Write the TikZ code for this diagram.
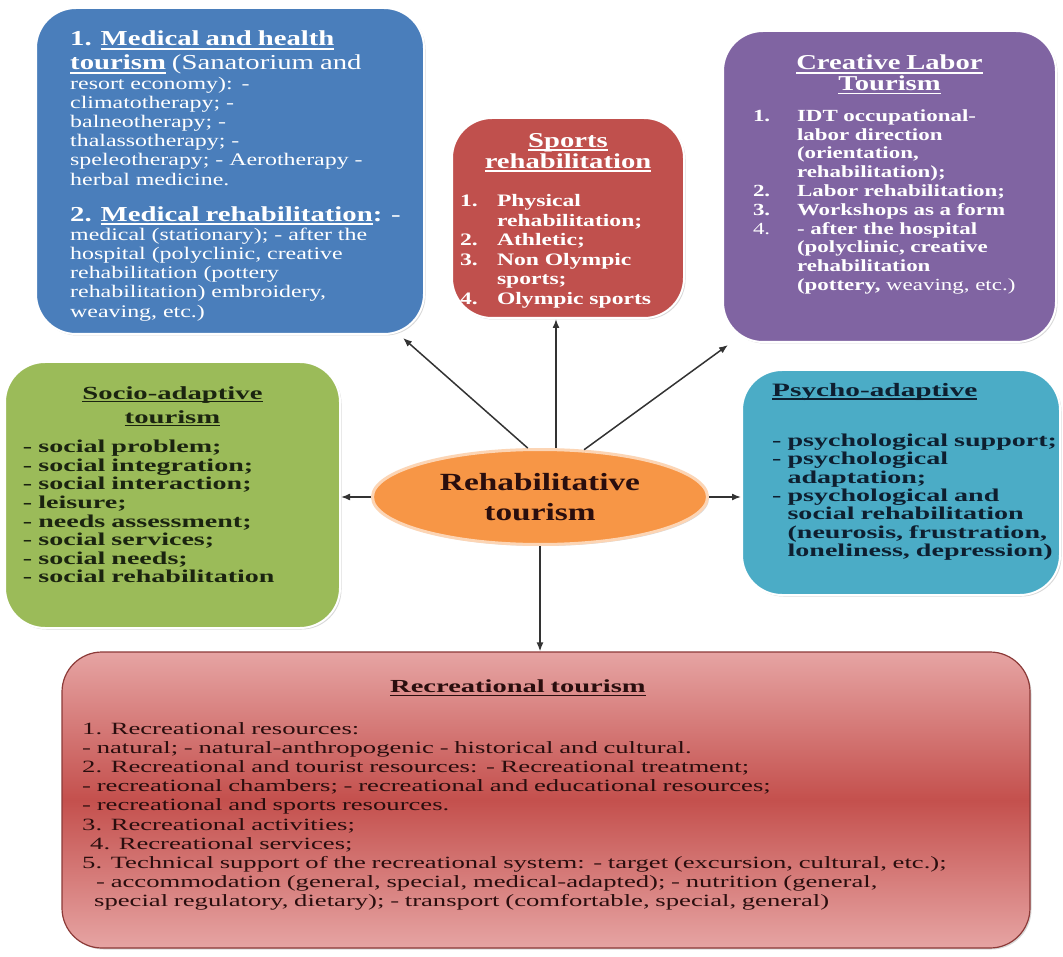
\documentclass[tikz,border=0pt]{standalone}
\usepackage{fontspec}
\setmainfont[FakeStretch=1.35]{Liberation Serif}
\newfontfamily\widefont[FakeStretch=1.55]{Liberation Serif}
\usepackage{xcolor}
\usetikzlibrary{shapes.geometric, arrows.meta, positioning, calc, shadows}
\definecolor{medblue}{HTML}{4A7EBB}
\definecolor{sportred}{HTML}{C0504D}
\definecolor{laborpurple}{HTML}{8064A2}
\definecolor{sociogreen}{HTML}{9BBB59}
\definecolor{psychocyan}{HTML}{4BACC6}
\definecolor{huborange}{HTML}{F79646}
\definecolor{hubedge}{HTML}{FCD5B5}
\definecolor{recpink}{HTML}{E6A4A3}
\definecolor{recred}{HTML}{C4504D}
\definecolor{recedge}{HTML}{8C3A38}
\definecolor{greentext}{HTML}{1B2410}
\definecolor{cyantext}{HTML}{0E1F30}
\definecolor{rectext}{HTML}{2A0E0E}
\definecolor{linkgray}{HTML}{333333}
\newcommand{\ulbar}[1]{\leavevmode\setbox0=\hbox{#1}\rlap{\rule[-0.17em]{\wd0}{0.07em}}\box0}
\tikzset{
    card/.style={rectangle, rounded corners=40pt, draw=white, line width=2pt, inner sep=0pt,
                 drop shadow={shadow xshift=1.5pt, shadow yshift=-1.5pt, opacity=0.3}},
    cardtext/.style={anchor=north west, inner sep=0pt, align=left},
    hub/.style={ellipse, fill=huborange, draw=hubedge, line width=3pt, inner sep=0pt, align=center,
                drop shadow={shadow xshift=1.5pt, shadow yshift=-1.5pt, opacity=0.3}},
    arrow/.style={-{Latex[length=9pt, width=7pt]}, line width=1.5pt, color=linkgray}
}

\begin{document}
\begin{tikzpicture}[x=1pt, y=-1pt]
    \fill[white] (0,0) rectangle (1063,957);
    \useasboundingbox (0,0) rectangle (1063,957);

    % boxes
    \node [card, fill=medblue, minimum width=388pt, minimum height=326pt] (medbox) at (230,171) {};
    \node [card, fill=sportred, minimum width=232pt, minimum height=200pt] (sportbox) at (568,218) {};
    \node [card, fill=laborpurple, minimum width=333pt, minimum height=311pt] (laborbox) at (889.5,186.5) {};
    \node [card, fill=sociogreen, minimum width=335pt, minimum height=266pt] (sociobox) at (172.5,495) {};
    \node [card, fill=psychocyan, minimum width=318pt, minimum height=225pt] (psychobox) at (901,482.5) {};
    \node [card, draw=recedge, line width=1.2pt, top color=recpink, bottom color=recpink, middle color=recred,
           minimum width=968pt, minimum height=296pt] (recbox) at (546,800) {};
    \node [hub, minimum width=335pt, minimum height=95pt, text=rectext,
           font=\bfseries\fontsize{24.7}{30}\selectfont] (hub) at (540,497) {Rehabilitative\\tourism};

    % texts
    \node [cardtext, text=white, text width=345pt, font=\fontsize{17.7}{19.2}\selectfont] (medtext) at (70,31) {%
        {\fontsize{21.3}{24}\selectfont\textbf{1. \ulbar{Medical and health}}\\\textbf{\ulbar{tourism}} (Sanatorium and\par}
        resort economy): -\\
        climatotherapy; -\\
        balneotherapy; -\\
        thalassotherapy; -\\
        speleotherapy; - Aerotherapy -\\
        herbal medicine.\par
        \vspace{12pt}
        {\fontsize{21.3}{24}\selectfont\textbf{2. \ulbar{Medical rehabilitation}:} -\par}
        medical (stationary); - after the\\
        hospital (polyclinic, creative\\
        rehabilitation (pottery\\
        rehabilitation) embroidery,\\
        weaving, etc.)};

    \node [cardtext, anchor=north, text=white, text width=216pt, font=\bfseries\fontsize{17.5}{19.5}\selectfont] (sporttext) at (568,133) {%
        {\centering\fontsize{21.2}{21}\selectfont\ulbar{Sports}\\\ulbar{rehabilitation}\par}
        \vspace{19pt}
        \makebox[37pt][l]{1.}Physical\\
        \hspace*{37pt}rehabilitation;\\
        \makebox[37pt][l]{2.}Athletic;\\
        \makebox[37pt][l]{3.}Non Olympic\\
        \hspace*{37pt}sports;\\
        \makebox[37pt][l]{4.}Olympic sports};

    \node [cardtext, anchor=north, text=white, text width=273pt, font=\bfseries\fontsize{17}{18.8}\selectfont] (labortext) at (889.5,55) {%
        {\centering\fontsize{21.2}{20.5}\selectfont\ulbar{Creative Labor}\\\ulbar{Tourism}\par}
        \vspace{12pt}
        \makebox[44pt][l]{1.}IDT occupational-\\
        \hspace*{44pt}labor direction\\
        \hspace*{44pt}(orientation,\\
        \hspace*{44pt}rehabilitation);\\
        \makebox[44pt][l]{2.}Labor rehabilitation;\\
        \makebox[44pt][l]{3.}Workshops as a form\\
        \makebox[44pt][l]{\mdseries 4.}- after the hospital\\
        \hspace*{44pt}(polyclinic, creative\\
        \hspace*{44pt}rehabilitation\\
        \hspace*{44pt}(pottery, {\mdseries weaving, etc.)}};

    \node [cardtext, anchor=north, text=greentext, text width=299pt, font=\widefont\bfseries\fontsize{18.1}{18.6}\selectfont] (sociotext) at (172.5,386) {%
        {\centering\fontsize{18.5}{24}\selectfont\ulbar{Socio-adaptive}\\\ulbar{tourism}\par}
        \vspace{11pt}
        - social problem;\\
        - social integration;\\
        - social interaction;\\
        - leisure;\\
        - needs assessment;\\
        - social services;\\
        - social needs;\\
        - social rehabilitation};

    \node [cardtext, text=cyantext, text width=290pt, font=\widefont\bfseries\fontsize{18.1}{18.3}\selectfont] (psychotext) at (772,383) {%
        {\fontsize{18.9}{20}\selectfont\ulbar{Psycho-adaptive}\par}
        \vspace{32pt}
        - psychological support;\\
        - psychological\\
        \phantom{- }adaptation;\\
        - psychological and\\
        \phantom{- }social rehabilitation\\
        \phantom{- }(neurosis, frustration,\\
        \phantom{- }loneliness, depression)};

    \node [cardtext, text=rectext, text width=940pt, font=\widefont\fontsize{17.2}{19.2}\selectfont] (rectext) at (82,680) {%
        {\bfseries\fontsize{18.4}{20}\selectfont\hspace*{308pt}\ulbar{Recreational tourism}\par}
        \vspace{22pt}
        1. Recreational resources:\\
        - natural; - natural-anthropogenic - historical and cultural.\\
        2. Recreational and tourist resources: - Recreational treatment;\\
        - recreational chambers; - recreational and educational resources;\\
        - recreational and sports resources.\\
        3. Recreational activities;\\
        \hspace*{8pt}4. Recreational services;\\
        5. Technical support of the recreational system: - target (excursion, cultural, etc.);\\
        \hspace*{14pt}- accommodation (general, special, medical-adapted); - nutrition (general,\\
        \hspace*{12pt}special regulatory, dietary); - transport (comfortable, special, general)};

    % connectors
    \draw [arrow] (hub.104) -- ([xshift=-22pt, yshift=-3pt]medbox.south east);
    \draw [arrow] ([xshift=16pt]hub.north) -- ([xshift=-12pt]sportbox.south);
    \draw [arrow] (hub.47) -- ([xshift=6pt, yshift=-2pt]laborbox.south west);
    \draw [arrow] (hub.west) -- (hub.west -| sociobox.east);
    \draw [arrow] (hub.east) -- (hub.east -| psychobox.west);
    \draw [arrow] (hub.south) -- (hub.south |- recbox.north);
\end{tikzpicture}
\end{document}
